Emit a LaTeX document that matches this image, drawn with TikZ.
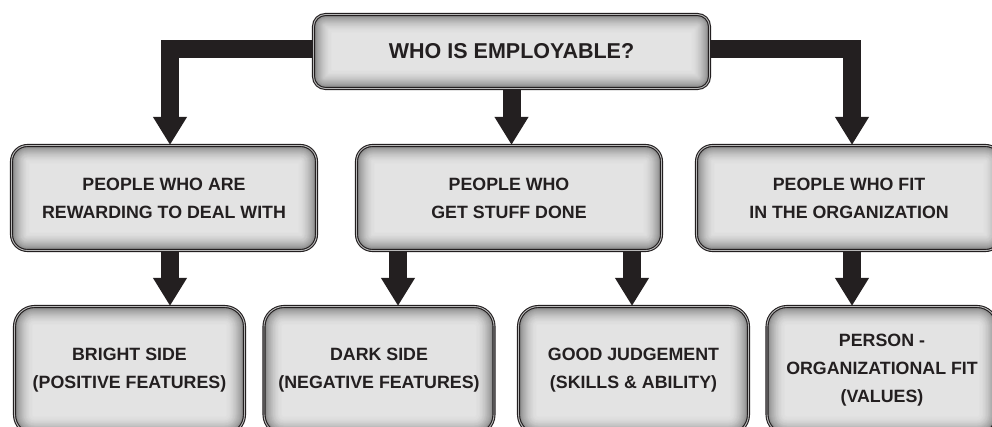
\documentclass[tikz,border=0pt]{standalone}
\usepackage{fontspec}
\setmainfont{Liberation Sans}
\usetikzlibrary{arrows.meta,backgrounds}
\definecolor{ink}{HTML}{231F20}
\newcommand\vigfill[1]{%
  \foreach \k in {0,...,20}{%
    \pgfmathtruncatemacro\vgc{11+round(38*(1-\k/20)^2)}%
    \pgfmathsetmacro\vgr{max(#1-\k,1)}%
    \fill[black!\vgc, rounded corners=\vgr pt]
      ([shift={(\k pt,\k pt)}]path picture bounding box.south west) rectangle
      ([shift={(-\k pt,-\k pt)}]path picture bounding box.north east);
  }}
\tikzset{
  box/.style={draw=ink, line width=1.1pt, double=gray!55, double distance=0.9pt,
    align=center, text=ink, inner sep=0pt,
    font=\bfseries\fontsize{17.8}{28}\selectfont},
  topbox/.style={box, rounded corners=12pt, minimum width=396pt, minimum height=74pt,
    path picture={\vigfill{12}}, font=\bfseries\fontsize{21.5}{26}\selectfont},
  midbox/.style={box, rounded corners=16pt, minimum width=305pt, minimum height=105pt,
    path picture={\vigfill{16}}},
  lowbox/.style={box, rounded corners=20pt, minimum width=230pt, minimum height=128pt,
    path picture={\vigfill{20}}},
  bar/.style={draw=ink, line width=18pt, line join=miter,
    -{Triangle[length=28pt 0 0, width=32pt 0 0]}}
}
\begin{document}
\begin{tikzpicture}[x=1pt,y=-1pt]
\useasboundingbox (0,0) rectangle (992,427);
\node[topbox] (top) at (511.5,51.5) {WHO IS EMPLOYABLE?};
\node[midbox] (L1) at (164,198) {PEOPLE WHO ARE\\REWARDING TO DEAL WITH};
\node[midbox] (M1) at (509,198) {PEOPLE WHO\\GET STUFF DONE};
\node[midbox] (R1) at (849,198) {PEOPLE WHO FIT\\IN THE ORGANIZATION};
\node[lowbox] (B1) at (129.5,370.5) {BRIGHT SIDE\\(POSITIVE FEATURES)};
\node[lowbox] (B2) at (379,370.5) {DARK SIDE\\(NEGATIVE FEATURES)};
\node[lowbox] (B3) at (633.5,370.5) {GOOD JUDGEMENT\\(SKILLS \& ABILITY)};
\node[lowbox] (B4) at (882,370.5) {PERSON -\\ORGANIZATIONAL FIT\\(VALUES)};
\coordinate (tw) at ([yshift=2pt]top.west);
\coordinate (te) at ([yshift=2pt]top.east);
\coordinate (l1n) at ([xshift=6pt]L1.north);
\coordinate (r1n) at ([xshift=3pt]R1.north);
\coordinate (l1s) at ([xshift=6pt]L1.center);
\coordinate (m1a) at ([xshift=-111pt]M1.center);
\coordinate (m1b) at ([xshift=123pt]M1.center);
\coordinate (r1s) at ([xshift=3pt]R1.center);
\begin{pgfonlayer}{background}
\draw[bar] (tw) -| (l1n);
\draw[bar] (te) -| (r1n);
\draw[bar] (top) -- (top |- M1.north);
\draw[bar] (l1s) -- (l1s |- B1.north);
\draw[bar] (m1a) -- (m1a |- B2.north);
\draw[bar] (m1b) -- (m1b |- B3.north);
\draw[bar] (r1s) -- (r1s |- B4.north);
\end{pgfonlayer}
\end{tikzpicture}
\end{document}
